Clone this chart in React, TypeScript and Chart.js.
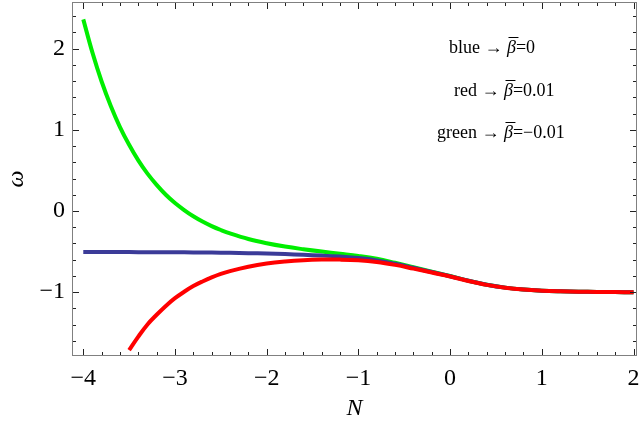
import React, { useEffect, useRef } from "react";
import { Chart, registerables } from "chart.js";

Chart.register(...registerables);

// ---- data ----
const nBlue = [-4.0, -3.8, -3.6, -3.4, -3.2, -3.0, -2.8, -2.6, -2.4, -2.2, -2.0, -1.8, -1.6, -1.4, -1.2, -1.0, -0.8, -0.6, -0.4, -0.2, 0.0, 0.2, 0.4, 0.6, 0.8, 1.0, 1.2, 1.4, 1.6, 1.8, 2.0];
const wBlue = [-0.505, -0.505, -0.506, -0.507, -0.508, -0.509, -0.51, -0.512, -0.515, -0.519, -0.524, -0.531, -0.539, -0.549, -0.562, -0.58, -0.608, -0.65, -0.70, -0.752, -0.803, -0.86, -0.908, -0.944, -0.967, -0.981, -0.989, -0.994, -0.997, -0.999, -1.0];

const nGreen = [-4.0, -3.9, -3.8, -3.7, -3.6, -3.5, -3.4, -3.3, -3.2, -3.1, -3.0, -2.9, -2.8, -2.7, -2.6, -2.5, -2.4, -2.2, -2.0, -1.8, -1.6, -1.4, -1.2, -1.0, -0.8, -0.6, -0.4, -0.2, 0.0, 0.2, 0.4, 0.6, 0.8, 1.0, 1.2, 1.4, 1.6, 1.8, 2.0];
const wGreen = [2.36, 1.95, 1.595, 1.293, 1.034, 0.815, 0.623, 0.46, 0.322, 0.20, 0.098, 0.012, -0.065, -0.13, -0.186, -0.234, -0.276, -0.345, -0.397, -0.438, -0.471, -0.50, -0.526, -0.553, -0.588, -0.638, -0.692, -0.747, -0.801, -0.859, -0.908, -0.944, -0.967, -0.981, -0.989, -0.994, -0.997, -0.999, -1.0];

const nRed = [-3.5, -3.4, -3.3, -3.2, -3.1, -3.0, -2.9, -2.8, -2.7, -2.6, -2.5, -2.4, -2.2, -2.0, -1.8, -1.6, -1.4, -1.2, -1.0, -0.8, -0.6, -0.4, -0.2, 0.0, 0.2, 0.4, 0.6, 0.8, 1.0, 1.2, 1.4, 1.6, 1.8, 2.0];
const wRed = [-1.715, -1.547, -1.397, -1.278, -1.169, -1.074, -0.995, -0.925, -0.868, -0.818, -0.775, -0.74, -0.686, -0.647, -0.622, -0.606, -0.599, -0.599, -0.607, -0.628, -0.664, -0.71, -0.758, -0.806, -0.862, -0.91, -0.945, -0.968, -0.981, -0.989, -0.994, -0.997, -0.999, -1.0];

const xTickValues = [-4, -3, -2, -1, 0, 1, 2];
const yTickValues = [-1, 0, 1, 2];

const legendEntries = [
  { name: "blue", value: "0" },
  { name: "red", value: "0.01" },
  { name: "green", value: "\u22120.01" },
];

const fmt = (v: number) => (v < 0 ? "\u2212" + Math.abs(v) : String(v));

const toPoints = (xs: number[], ys: number[]) => xs.map((x, i) => ({ x, y: ys[i] }));

const frameTicks = {
  id: "frameTicks",
  afterDatasetsDraw(chart: any) {
    const { ctx, chartArea } = chart;
    const { left, right, top, bottom } = chartArea;
    const xs = chart.scales.x;
    const ys = chart.scales.y;
    ctx.save();
    ctx.lineWidth = 1;
    ctx.strokeStyle = "#222";
    ctx.beginPath();
    for (let i = -25; i <= 15; i++) {
      const v = i / 5;
      if (v < xs.min || v > xs.max) continue;
      const major = i % 5 === 0;
      const len = major ? 7 : 4;
      const px = Math.round(xs.getPixelForValue(v)) + 0.5;
      ctx.moveTo(px, bottom);
      ctx.lineTo(px, bottom - len);
      ctx.moveTo(px, top);
      ctx.lineTo(px, top + len);
    }
    for (let i = -15; i <= 15; i++) {
      const v = i / 5;
      if (v < ys.min || v > ys.max) continue;
      const major = i % 5 === 0;
      const len = major ? 7 : 4;
      const py = Math.round(ys.getPixelForValue(v)) + 0.5;
      ctx.moveTo(left, py);
      ctx.lineTo(left + len, py);
      ctx.moveTo(right, py);
      ctx.lineTo(right - len, py);
    }
    ctx.stroke();
    ctx.strokeStyle = "#808080";
    ctx.strokeRect(Math.round(left) + 0.5, Math.round(top) + 0.5, Math.round(right - left) - 1, Math.round(bottom - top) - 1);
    ctx.restore();
  },
};

const legendText = {
  id: "legendText",
  afterDraw(chart: any) {
    const { ctx } = chart;
    const positions = [
      { x: 449, y: 47 },
      { x: 454, y: 90 },
      { x: 437, y: 132 },
    ];
    const size = 18;
    ctx.save();
    ctx.fillStyle = "#000";
    ctx.textBaseline = "alphabetic";
    ctx.textAlign = "left";
    legendEntries.forEach((e, i) => {
      const p = positions[i];
      const base = p.y + 6;
      let x = p.x;
      ctx.font = `${size}px 'Liberation Serif'`;
      const pre = e.name + " \u2192 ";
      ctx.fillText(pre, x, base);
      x += ctx.measureText(pre).width;
      ctx.font = `italic ${size}px 'Liberation Serif'`;
      const bw = ctx.measureText("\u03b2").width;
      ctx.fillText("\u03b2", x, base);
      ctx.fillRect(x + 1.5, base - 16, bw + 1, 1);
      x += bw;
      ctx.font = `${size}px 'Liberation Serif'`;
      ctx.fillText("=" + e.value, x, base);
    });
    ctx.restore();
  },
};

const zeroPad = (s: any) => {
  s.paddingTop = 0;
  s.paddingBottom = 0;
  s.paddingLeft = 0;
  s.paddingRight = 0;
};

export default function App() {
  const ref = useRef<HTMLCanvasElement | null>(null);
  useEffect(() => {
    if (!ref.current) return;
    const common = { borderWidth: 4, pointRadius: 0, tension: 0.4 };
    const chart = new Chart(ref.current, {
      type: "line",
      data: {
        datasets: [
          { label: "red", data: toPoints(nRed, wRed), borderColor: "#ff0000", order: 1, ...common },
          { label: "blue", data: toPoints(nBlue, wBlue), borderColor: "#3b3b98", order: 2, ...common },
          { label: "green", data: toPoints(nGreen, wGreen), borderColor: "#00ee00", order: 3, ...common },
        ],
      },
      plugins: [frameTicks, legendText],
      options: {
        responsive: false,
        animation: false,
        devicePixelRatio: 1,
        layout: { padding: { top: 2, right: 3, left: 0, bottom: 0 } },
        plugins: { legend: { display: false }, tooltip: { enabled: false } },
        scales: {
          x: {
            type: "linear",
            min: -4.123,
            max: 2.038,
            grid: { display: false, drawTicks: false },
            border: { display: false },
            afterBuildTicks: (s: any) => {
              s.ticks = xTickValues.map((v) => ({ value: v }));
            },
            afterFit: (s: any) => {
              s.height = 69;
              zeroPad(s);
            },
            ticks: {
              autoSkip: false,
              maxRotation: 0,
              padding: 8,
              color: "#000",
              font: { family: "'Liberation Serif'", size: 24 },
              callback: (v: any) => fmt(Number(v)),
            },
            title: {
              display: true,
              text: "N",
              color: "#000",
              font: { family: "'Liberation Serif'", size: 24, style: "italic" },
              padding: { top: 0, bottom: 2 },
            },
          },
          y: {
            type: "linear",
            min: -1.786,
            max: 2.574,
            grid: { display: false, drawTicks: false },
            border: { display: false },
            afterBuildTicks: (s: any) => {
              s.ticks = yTickValues.map((v) => ({ value: v }));
            },
            afterFit: (s: any) => {
              s.width = 72;
              zeroPad(s);
            },
            ticks: {
              autoSkip: false,
              padding: 7,
              color: "#000",
              font: { family: "'Liberation Serif'", size: 24 },
              callback: (v: any) => fmt(Number(v)),
            },
            title: {
              display: true,
              text: "\u03c9",
              color: "#000",
              font: { family: "'Liberation Serif'", size: 24, style: "italic" },
              padding: { top: 2, bottom: 0 },
            },
          },
        },
      },
    });
    return () => chart.destroy();
  }, []);
  return (
    <div style={{ position: "absolute", left: 0, top: 0, width: 640, height: 425, background: "#fff" }}>
      <canvas ref={ref} width={640} height={425} style={{ display: "block", width: 640, height: 425 }} />
    </div>
  );
}
